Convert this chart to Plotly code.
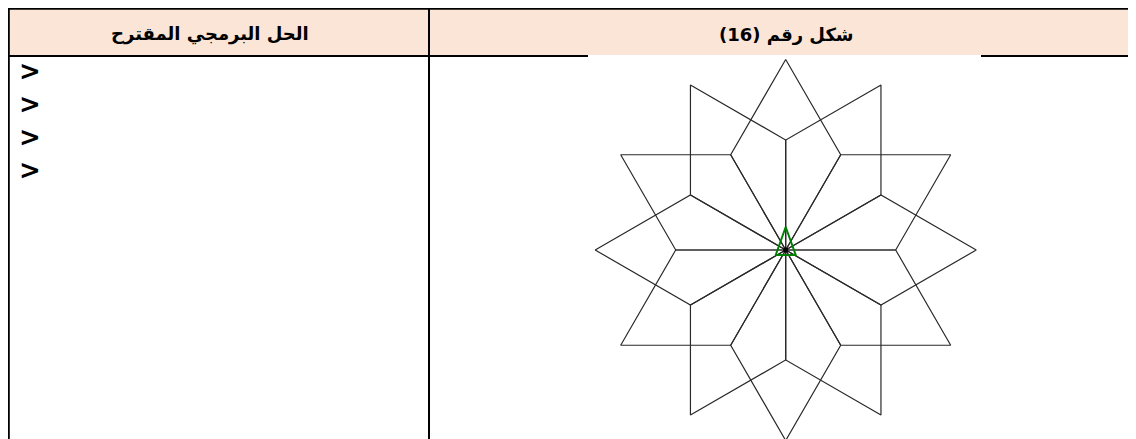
import plotly.graph_objects as go
import math

# ---- data ----
header_labels = ["الحل البرمجي المقترح", "شكل رقم (16)"]
prompt_rows = [">", ">", ">", ">"]
rhombus_angles = [0, 30, 60, 90, 120, 150, 180, 210, 240, 270, 300, 330]  # turtle heading of each rhombus
rhombus_side = 110          # turtle forward distance
rhombus_turn = 60           # interior angle at centre
turtle_shape_x = [-10, 0, 10, -10]
turtle_shape_y = [-5, 23, -5, -5]

# ---- layout constants (page pixels; the page body has an 8px margin) ----
PAGE_W, PAGE_H = 1136, 439
OFF = 8
W, H = PAGE_W - OFF, PAGE_H - OFF
cx, cy = 785.7, 250.0
R = 200

fig = go.Figure()

# star traces on xaxis2 / yaxis2 (turtle units, 1 unit = 1 px)
for th in rhombus_angles:
    xs, ys = [0.0], [0.0]
    a1 = math.radians(th)
    a2 = math.radians(th + rhombus_turn)
    p1 = (rhombus_side * math.sin(a1), rhombus_side * math.cos(a1))
    p2 = (rhombus_side * math.sin(a2), rhombus_side * math.cos(a2))
    p3 = (p1[0] + p2[0], p1[1] + p2[1])
    for p in (p1, p3, p2, (0.0, 0.0)):
        xs.append(p[0]); ys.append(p[1])
    fig.add_trace(go.Scatter(x=xs, y=ys, mode="lines", xaxis="x2", yaxis="y2",
                             line=dict(color="#2a2a2a", width=1.2),
                             hoverinfo="skip", showlegend=False))

fig.add_trace(go.Scatter(x=turtle_shape_x, y=turtle_shape_y, mode="lines",
                         xaxis="x2", yaxis="y2",
                         line=dict(color="#008000", width=2),
                         hoverinfo="skip", showlegend=False))
fig.add_trace(go.Scatter(x=[0], y=[0], mode="markers", xaxis="x2", yaxis="y2",
                         marker=dict(color="black", size=5),
                         hoverinfo="skip", showlegend=False))

# table shapes on pixel axes (page coordinates)
line = dict(color="black", width=2)
shapes = [
    dict(type="rect", x0=9, x1=1136, y0=9.5, y1=55, fillcolor="#FBE5D6",
         line=dict(width=0), layer="below"),
    dict(type="line", x0=8, x1=1136, y0=8.8, y1=8.8, line=line),
    dict(type="line", x0=8.8, x1=8.8, y0=8, y1=439, line=line),
    dict(type="line", x0=429, x1=429, y0=8, y1=439, line=line),
    dict(type="line", x0=8, x1=588, y0=56, y1=56, line=line),
    dict(type="line", x0=981, x1=1136, y0=56, y1=56, line=line),
]
for s in shapes:
    s["xref"] = "x"; s["yref"] = "y"

annotations = [
    dict(x=210, y=34, text="<b>%s</b>" % header_labels[0], showarrow=False,
         font=dict(family="DejaVu Sans", size=18, color="black"), xref="x", yref="y"),
    dict(x=786, y=34, text="<b>%s</b>" % header_labels[1], showarrow=False,
         font=dict(family="DejaVu Sans", size=18, color="black"), xref="x", yref="y"),
]
for i, t in enumerate(prompt_rows):
    annotations.append(dict(x=30, y=71 + 33 * i, text="<b>%s</b>" % t, showarrow=False,
                            font=dict(family="DejaVu Sans", size=26, color="black"),
                            xref="x", yref="y"))

fig.update_layout(
    width=W, height=H, margin=dict(l=0, r=0, t=0, b=0),
    paper_bgcolor="white", plot_bgcolor="rgba(0,0,0,0)",
    xaxis=dict(range=[OFF, PAGE_W], visible=False, domain=[0, 1], fixedrange=True),
    yaxis=dict(range=[PAGE_H, OFF], visible=False, domain=[0, 1], fixedrange=True),
    xaxis2=dict(range=[-R, R], visible=False, anchor="y2",
                domain=[(cx - R - OFF) / W, (cx + R - OFF) / W]),
    yaxis2=dict(range=[-(PAGE_H - cy), cy - OFF], visible=False, anchor="x2",
                domain=[0, 1]),
    shapes=shapes, annotations=annotations, showlegend=False,
)

fig.write_html("out.html")
